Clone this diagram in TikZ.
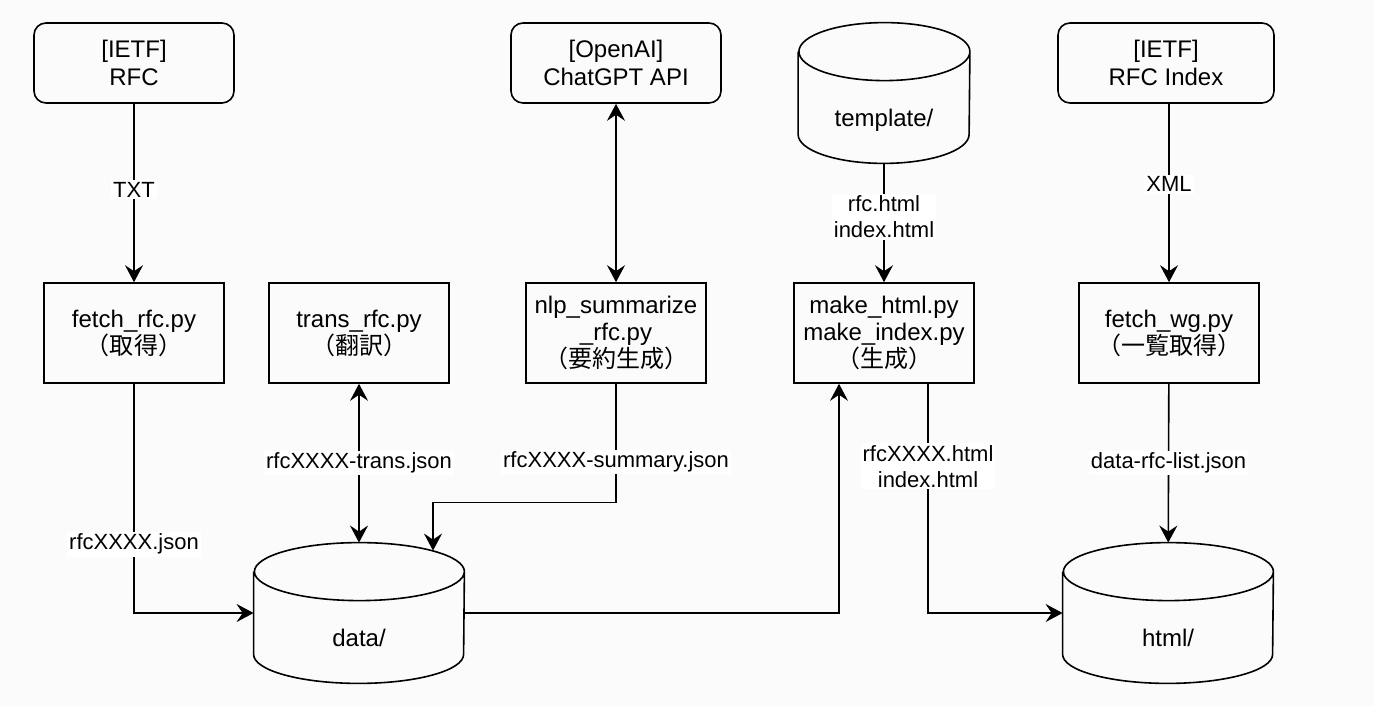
\documentclass[tikz,border=0pt]{standalone}
\usepackage{fontspec}
\setmainfont{Liberation Sans}
\newfontfamily\cjk{Noto Sans CJK JP}
\usepackage{tikz}
\usetikzlibrary{arrows.meta,positioning,calc}

\begin{document}
\begin{tikzpicture}[x=0.5pt,y=-0.5pt]
  % Define styles
  \tikzstyle{source} = [rectangle, draw, line width=0.8pt, rounded corners=6pt, minimum width=100pt, minimum height=40pt, align=center, font=\fontsize{12}{14}\selectfont, inner sep=0pt]
  \tikzstyle{script} = [rectangle, draw, line width=0.8pt, minimum width=90pt, minimum height=50pt, align=center, font=\fontsize{12}{13.5}\selectfont, inner sep=0pt]
  \tikzstyle{db} = [rectangle, minimum width=105pt, minimum height=70pt, text height=36pt, text depth=2.5pt, font=\fontsize{12}{14}\selectfont, inner sep=0pt]
  \tikzstyle{arrow} = [line width=0.8pt, ->, >={Stealth[length=8.5pt,width=9pt,inset=3pt]}]
  \tikzstyle{label} = [fill=white, font=\fontsize{11}{13}\selectfont, align=center, inner sep=1pt]

  \useasboundingbox[fill=black!1.5] (0,0) rectangle (1374,706);

  % Sources on top
  \node [source] (rfc) at (134,63) {[IETF]\\RFC};
  \node [source, minimum width=105pt] (chatgpt) at (616,63) {[OpenAI]\\ChatGPT API};
  \node [db, minimum width=85.5pt] (template) at (884,93) {template/};
  \node [source, minimum width=108pt] (rfcindex) at (1166,63) {[IETF]\\RFC Index};

  % Scripts
  \node [script] (fetchrfc) at (134,333) {fetch\_rfc.py\\{\cjk （取得）}};
  \node [script] (transrfc) at (359,333) {trans\_rfc.py\\{\cjk （翻訳）}};
  \node [script] (nlp) at (616,333) {nlp\_summarize\\\_rfc.py\\{\cjk （要約生成）}};
  \node [script] (makehtml) at (884,333) {make\_html.py\\make\_index.py\\{\cjk （生成）}};
  \node [script] (fetchwg) at (1169,333) {fetch\_wg.py\\{\cjk （一覧取得）}};

  % Storage
  \node [db] (data) at (359,613) {data/};
  \node [db] (html) at (1168,613) {html/};

  % Cylinder outlines
  \foreach \n/\r in {template/42.75pt, data/52.5pt, html/52.5pt} {
    \draw [line width=0.8pt] ([yshift=-14.5pt]\n.north west) -- ([yshift=14.5pt]\n.south west)
      arc [start angle=180, end angle=360, x radius=\r, y radius=14.5pt]
      -- ([yshift=-14.5pt]\n.north east)
      arc [start angle=0, end angle=180, x radius=\r, y radius=14.5pt]
      arc [start angle=180, end angle=360, x radius=\r, y radius=14.5pt];
  }

  % Data flow
  \draw [arrow] (rfc) -- (fetchrfc) node[pos=0.48, label] {TXT};
  \draw [arrow, <->] (chatgpt) -- (nlp);
  \draw [arrow] (template) -- (makehtml) node[pos=0.45, label] {rfc.html\\index.html};
  \draw [arrow] (rfcindex.south -| fetchwg.north) -- (fetchwg) node[pos=0.45, label] {XML};

  \draw [arrow] (fetchrfc.south) |- node[pos=0.35, label] {rfcXXXX.json} (data.west);
  \draw [arrow, <->] (transrfc) -- (data) node[midway, label] {rfcXXXX-trans.json};
  \draw [arrow] (nlp.south) |- node[pos=0.33, label] {rfcXXXX-summary.json} ($(data.north)+(74,-40)$) -- ($(data.north)+(74,8)$);
  \draw [arrow] (data.east) -| ($(makehtml.south)+(-45,0)$);
  \draw [arrow] ($(makehtml.south)+(44,0)$) |- node[pos=0.18, label] {rfcXXXX.html\\index.html} (html.west);
  \draw [arrow] (fetchwg) -- (html) node[midway, label] {data-rfc-list.json};

\end{tikzpicture}
\end{document}
